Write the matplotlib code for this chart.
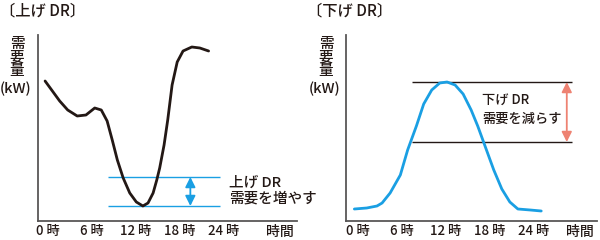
import matplotlib
matplotlib.use("Agg")
import matplotlib.pyplot as plt

plt.rcParams['font.family'] = ['Noto Sans CJK JP', 'DejaVu Sans']

# 上げ DR: demand curve (hour, demand)
up_hours = [-0.4, 0.5, 1.6, 2.7, 4.0, 5.2, 6.4, 7.3, 8.1, 8.8, 9.5, 10.3, 11.2,
            12.1, 13.0, 13.7, 14.4, 14.9, 15.3, 15.9, 16.4, 17.0, 17.7, 18.5,
            19.7, 20.8, 22.0]
up_demand = [140, 131, 120, 111, 105, 106, 113, 111, 100, 81, 61, 43, 28,
             19, 15, 18, 28, 41, 53, 76, 101, 136, 159, 170, 174, 173, 170]
up_band = [44, 15]          # 上げ幅 (upper, lower)
up_band_span = [8.2, 23.6]

# 下げ DR: demand curve
down_hours = [-0.5, 1.2, 2.6, 3.3, 4.4, 5.8, 6.8, 8.0, 9.0, 10.1, 11.2, 12.2,
              13.3, 14.4, 15.5, 16.4, 17.5, 18.6, 19.7, 20.8, 21.9, 23.6, 25.1]
down_demand = [12, 13, 15, 18, 28, 46, 71, 95, 117, 131, 138, 139, 136, 127,
               111, 95, 73, 51, 32, 19, 12, 11, 10]
down_band = [139, 79]
down_band_span = [7.4, 29.3]

hour_ticks = [0, 6, 12, 18, 24]
hour_labels = ['0 時', '6 時', '12 時', '18 時', '24 時']

BLACK = '#231815'
GRAY = '#595757'
BLUE = '#1a9fe3'
SALMON = '#ee8272'
W = 'medium'

fig = plt.figure(figsize=(6, 2.4), dpi=100)


def px(x, y):
    return x / 600, 1 - y / 240


def make_axes(left, right, x0):
    # left/right: pixel extents of the x axis, x0: pixel of hour 0
    ax = fig.add_axes([left / 600, 19 / 240, (right - left) / 600, 186 / 240])
    ax.set_xlim((left - x0) / 7.3, (right - x0) / 7.3)
    ax.set_ylim(0, 186)
    for s in ['top', 'right']:
        ax.spines[s].set_visible(False)
    for s in ['left', 'bottom']:
        ax.spines[s].set_color(GRAY)
        ax.spines[s].set_linewidth(1.3)
    ax.set_yticks([])
    ax.set_xticks(hour_ticks)
    ax.set_xticklabels(hour_labels, fontsize=9.5, color=BLACK, fontweight=W)
    ax.tick_params(axis='x', length=0, pad=2)
    fig.text(*px(right - 17, 232), '時間', ha='center', va='center',
             fontsize=10, color=BLACK, fontweight=W)
    return ax


def ylabel(xc):
    for i, ch in enumerate('需要量'):
        fig.text(*px(xc, 44 + i * 13.5), ch, ha='center', va='center',
                 fontsize=10.5, color=BLACK, fontweight=W)
    fig.text(*px(xc - 1, 89), '(kW)', ha='center', va='center',
             fontsize=10.5, color=BLACK, fontweight=W)


def arrow(ax, x, y0, y1, color):
    ax.annotate('', xy=(x, y0), xytext=(x, y1),
                arrowprops=dict(arrowstyle='<|-|>,head_length=0.6,head_width=0.3',
                                color=color, lw=1.3, shrinkA=0, shrinkB=0))


# left panel
ax1 = make_axes(38, 297, 48)
ax1.hlines(up_band, up_band_span[0], up_band_span[1], color=BLUE, lw=1.0)
ax1.plot(up_hours, up_demand, color=BLACK, lw=2.0, solid_capstyle='round')
arrow(ax1, 19.5, up_band[0], up_band[1], BLUE)
ax1.text(24.8, 38, '上げ DR', fontsize=10.5, color=BLACK, va='center', fontweight=W)
ax1.text(24.8, 23, '需要を増やす', fontsize=10.5, color=BLACK, va='center', fontweight=W)
fig.text(*px(0, 11), '〔上げ DR〕', ha='left', va='center', fontsize=11,
         color=BLACK, fontweight=W)
ylabel(17)

# right panel
ax2 = make_axes(346, 597, 358)
ax2.hlines(down_band, down_band_span[0], down_band_span[1], color=BLACK, lw=1.0)
ax2.plot(down_hours, down_demand, color=BLUE, lw=2.0, solid_capstyle='round')
arrow(ax2, 28.6, down_band[0], down_band[1], SALMON)
ax2.text(17.0, 121, '下げ DR', fontsize=9.5, color=BLACK, va='center', fontweight=W)
ax2.text(17.0, 102, '需要を減らす', fontsize=9.5, color=BLACK, va='center', fontweight=W)
fig.text(*px(307, 11), '〔下げ DR〕', ha='left', va='center', fontsize=11,
         color=BLACK, fontweight=W)
ylabel(326)

fig.savefig('out.png', dpi=100)
